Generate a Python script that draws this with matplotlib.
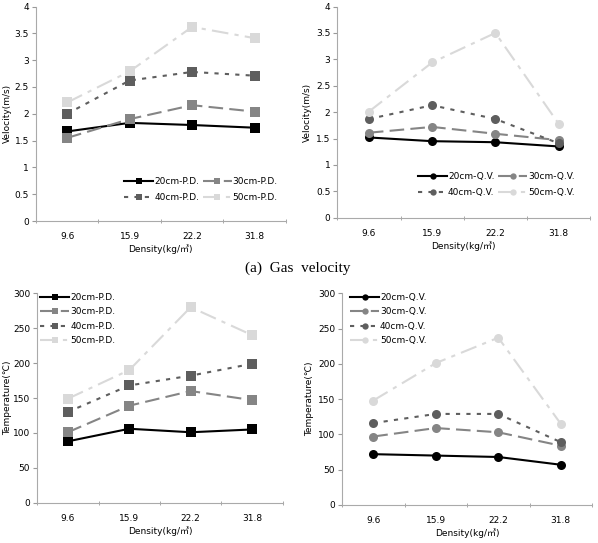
import matplotlib
matplotlib.use('Agg')
import matplotlib.pyplot as plt
from matplotlib.ticker import FuncFormatter

plt.rcParams['font.family'] = ['DejaVu Sans', 'Noto Sans CJK KR']

density = ['9.6', '15.9', '22.2', '31.8']
depths = ['20cm', '30cm', '40cm', '50cm']

# gas velocity (m/s)
vel_pd = {
    '20cm': [1.67, 1.83, 1.79, 1.74],
    '30cm': [1.55, 1.90, 2.16, 2.04],
    '40cm': [2.00, 2.62, 2.78, 2.71],
    '50cm': [2.21, 2.79, 3.62, 3.41],
}
vel_qv = {
    '20cm': [1.52, 1.45, 1.43, 1.35],
    '30cm': [1.61, 1.72, 1.59, 1.47],
    '40cm': [1.87, 2.13, 1.87, 1.41],
    '50cm': [2.01, 2.94, 3.50, 1.78],
}
# temperature (C)
temp_pd = {
    '20cm': [88, 106, 101, 105],
    '30cm': [101, 139, 160, 147],
    '40cm': [130, 168, 182, 199],
    '50cm': [149, 190, 280, 240],
}
temp_qv = {
    '20cm': [72, 70, 68, 57],
    '30cm': [97, 109, 103, 84],
    '40cm': [116, 129, 129, 89],
    '50cm': [148, 201, 237, 115],
}

styles = {
    '20cm': dict(color='#000000', linestyle='-', lw=1.5),
    '30cm': dict(color='#858585', linestyle=(0, (7, 3)), lw=1.5),
    '40cm': dict(color='#5e5e5e', linestyle=(0, (2, 3)), lw=1.5),
    '50cm': dict(color='#d9d9d9', linestyle=(0, (8, 3, 2, 3)), lw=1.5),
}

W, H = 598, 543
fig = plt.figure(figsize=(W / 100, H / 100), dpi=100)
gfmt = FuncFormatter(lambda v, p: '%g' % v)


def draw(rect, data, marker, suffix, ylim, ystep, ylabel, ylabel_px, ncol, legend_kw):
    ax = fig.add_axes(rect)
    x = range(len(density))
    lines = {}
    for d in depths:
        st = styles[d]
        lines[d], = ax.plot(x, data[d], marker=marker, markersize=6.5, markeredgewidth=0,
                            markerfacecolor=st['color'], label=d + suffix, **st)
    ax.set_xlim(-0.5, 3.5)
    ax.set_ylim(0, ylim)
    ax.set_yticks([i * ystep for i in range(int(round(ylim / ystep)) + 1)])
    ax.yaxis.set_major_formatter(gfmt)
    ax.set_xticks(list(x))
    ax.set_xticklabels(density)
    ax.set_xticks([-0.5, 0.5, 1.5, 2.5, 3.5], minor=True)
    ax.tick_params(axis='x', which='major', length=0, pad=8, labelsize=6.5)
    ax.tick_params(axis='x', which='minor', length=3, direction='inout', color='#999999')
    ax.tick_params(axis='y', length=3, color='#999999', labelsize=6.5, pad=2)
    for s in ['top', 'right']:
        ax.spines[s].set_visible(False)
    for s in ['left', 'bottom']:
        ax.spines[s].set_color('#aaaaaa')
    ax.set_xlabel('Density(kg/㎥)', fontsize=6.5, labelpad=2)
    ax.set_ylabel(ylabel, fontsize=6.5)
    # label right edge sits at ylabel_px (figure pixels)
    ax.yaxis.set_label_coords((ylabel_px - rect[0] * W) / (rect[2] * W), 0.5)
    if ncol == 2:
        order = ['20cm', '40cm', '30cm', '50cm']  # row-wise reading
    else:
        order = depths
    kw = dict(frameon=False, fontsize=6.5, handlelength=3.2, handletextpad=0.1,
              labelspacing=0.75, markerscale=0.7)
    kw.update(legend_kw)
    ax.legend([lines[d] for d in order], [d + suffix for d in order], ncol=ncol, **kw)
    return ax


draw([0.060, 0.593, 0.418, 0.395], vel_pd, 's', '-P.D.', 4, 0.5, 'Velocity(m/s)', 12, 2,
     dict(loc='lower right', bbox_to_anchor=(1.0, 0.05), columnspacing=0.4))
draw([0.564, 0.599, 0.423, 0.389], vel_qv, 'o', '-Q.V.', 4, 0.5, 'Velocity(m/s)', 312, 2,
     dict(loc='lower right', bbox_to_anchor=(0.97, 0.06), columnspacing=0.4))
draw([0.062, 0.074, 0.411, 0.386], temp_pd, 's', '-P.D.', 300, 50, 'Temperature(℃)', 12, 1,
     dict(loc='upper left', bbox_to_anchor=(-0.02, 1.04), labelspacing=0.6))
draw([0.572, 0.070, 0.418, 0.390], temp_qv, 'o', '-Q.V.', 300, 50, 'Temperature(℃)', 314, 1,
     dict(loc='upper left', bbox_to_anchor=(0.0, 1.04), labelspacing=0.6))

fig.text(0.497, 0.506, '(a)  Gas  velocity', ha='center', va='center', fontsize=11,
         family=['Liberation Serif'])

fig.savefig('out.png', dpi=100)
